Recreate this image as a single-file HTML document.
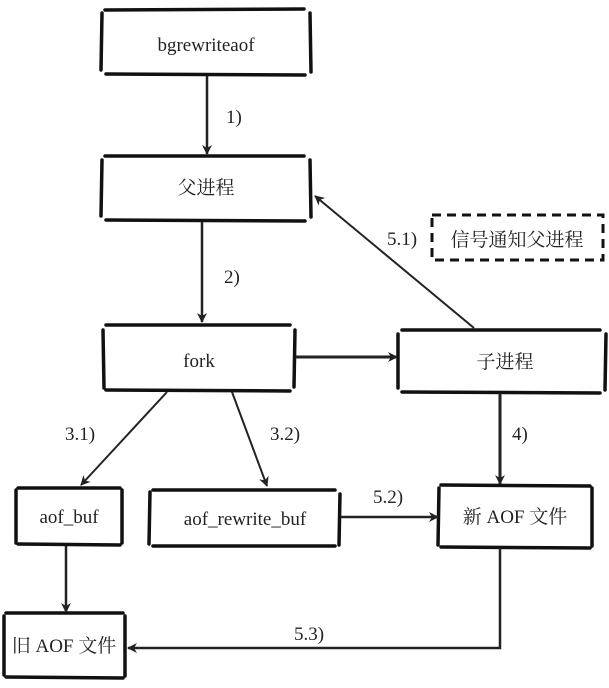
<!DOCTYPE html>
<html><head><meta charset="utf-8"><style>
html,body{margin:0;padding:0;background:#fff;}
svg{display:block;}
text{font-family:"Liberation Serif","Noto Serif CJK SC",serif;fill:#222;}
</style></head><body>
<svg width="609" height="688" viewBox="0 0 609 688" xmlns="http://www.w3.org/2000/svg">
<defs>
<marker id="ah" markerWidth="10" markerHeight="10" refX="9" refY="5" orient="auto" markerUnits="userSpaceOnUse">
<path d="M0,0 L10,5 L0,10 L3,5 Z" fill="#222"/>
</marker>
</defs>
<g stroke="#111" stroke-width="3.5" fill="none" stroke-linecap="round">
<path d="M105,10 L304,9 M106,74 L305,75 M102,13 L101,70 M310,13 L311,72"/>
<path d="M105,156 L304,156 M106,220 L305,221 M102,160 L101,216 M310,160 L311,217"/>
<path d="M106,325 L290,325 M106,390 L290,391 M103,330 L104,388 M295,330 L294,387"/>
<path d="M402,330 L600,330 M402,392 L600,393 M398,334 L398,388 M606,334 L605,390"/>
<path d="M18,488 L120,488 M18,544 L120,545 M16,490 L16,543 M122,490 L122,543"/>
<path d="M153,490 L335,490 M153,546 L335,546 M150,492 L149,544 M340,494 L339,545"/>
<path d="M441,485 L590,486 M441,547 L590,548 M439,488 L438,545 M592,488 L592,546"/>
<path d="M6,613 L123,613 M6,677 L123,678 M4,616 L4,675 M125,616 L125,676"/>
</g>
<g stroke="#111" stroke-width="3" fill="none" stroke-dasharray="9,6">
<rect x="432" y="215" width="171" height="45"/>
</g>
<g stroke="#222" stroke-width="2.5" fill="none">
<line x1="207" y1="76" x2="207" y2="154" marker-end="url(#ah)"/>
<line x1="202" y1="222" x2="202" y2="322" marker-end="url(#ah)"/>
<line x1="474" y1="328" x2="315" y2="196" stroke-width="2" marker-end="url(#ah)"/>
<line x1="296" y1="357" x2="397" y2="357" stroke-width="3" marker-end="url(#ah)"/>
<line x1="167" y1="392" x2="81" y2="485" stroke-width="2" marker-end="url(#ah)"/>
<line x1="232" y1="392" x2="267" y2="486" stroke-width="2" marker-end="url(#ah)"/>
<line x1="500" y1="393" x2="500" y2="484" stroke-width="3" marker-end="url(#ah)"/>
<line x1="341" y1="517" x2="438" y2="517" marker-end="url(#ah)"/>
<line x1="66" y1="546" x2="66" y2="612" marker-end="url(#ah)"/>
<polyline points="500,548 500,648 128,648" marker-end="url(#ah)"/>
</g>
<g font-size="19" text-anchor="middle">
<text x="206" y="51">bgrewriteaof</text>
<text x="206" y="194">父进程</text>
<text x="199" y="367">fork</text>
<text x="505" y="368">子进程</text>
<text x="69" y="523">aof_buf</text>
<text x="245" y="525">aof_rewrite_buf</text>
<text x="515" y="523">新 AOF 文件</text>
<text x="64" y="652">旧 AOF 文件</text>
<text x="517" y="246">信号通知父进程</text>
</g>
<g font-size="19">
<text x="226" y="123">1)</text>
<text x="224" y="283">2)</text>
<text x="387" y="245">5.1)</text>
<text x="65" y="440">3.1)</text>
<text x="270" y="440">3.2)</text>
<text x="512" y="440">4)</text>
<text x="373" y="503">5.2)</text>
<text x="294" y="640">5.3)</text>
</g>
</svg>
</body></html>
